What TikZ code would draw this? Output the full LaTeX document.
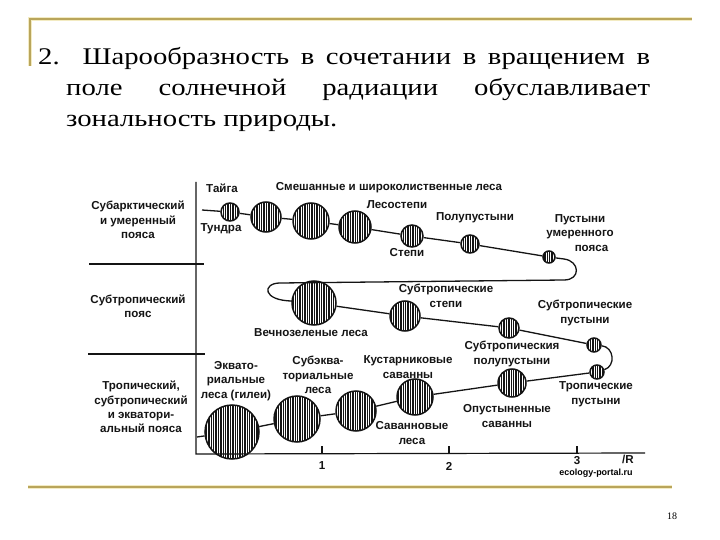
\documentclass[tikz,border=0pt]{standalone}
\usepackage{fontspec}
\setmainfont{Liberation Serif}
\newfontfamily\headfont[FakeStretch=1.2]{Liberation Serif}
\newfontfamily\labfont{Liberation Sans}
\usetikzlibrary{patterns.meta}
\definecolor{zgold}{HTML}{B9A55B}
\definecolor{zglow}{HTML}{F3EBC2}
\definecolor{zink}{HTML}{141414}

\begin{document}
\begin{tikzpicture}[x=1bp,y=-1bp,
    zone/.style={circle,draw=zink,line width=1.5bp,inner sep=0pt,
      pattern={Lines[angle=90,distance=2.4bp,line width=1.4bp]},pattern color=zink},
    lab/.style={font=\labfont\bfseries\fontsize{11.6}{14.5}\selectfont,align=center,inner sep=0pt,text=zink},
    link/.style={draw=zink,line width=1.3bp},
    rule/.style={draw=zink,line width=1.2bp},
    gold/.style={draw=zgold,line width=1.6bp}]
  \useasboundingbox (0,0) rectangle (720,540);
  \fill[white] (0,0) rectangle (720,540);
  % frame
  \coordinate (ftl) at (30,19);
  \coordinate (ftr) at (692,19);
  \coordinate (fl) at (30,66);
  \coordinate (fbl) at (28,487);
  \coordinate (fbr) at (672,487);
  \draw[zglow,line width=4.5bp] (fl) -- (ftl) -- (ftr);
  \draw[zglow,line width=4.5bp] (fbl) -- (fbr);
  \draw[gold] (fl) -- (ftl) -- (ftr);
  \draw[gold] (fbl) -- (fbr);
  % heading
  \node[anchor=north west,inner sep=0pt,align=left,
    font=\headfont\fontsize{24}{31}\selectfont] (head) at (38,47)
    {\makebox[612bp][s]{2. Шарообразность в сочетании в вращением в}\\
     \hspace*{28bp}\makebox[584bp][s]{поле солнечной радиации обуславливает}\\
     \hspace*{28bp}зональность природы.};
  \node[font=\fontsize{10}{12}\selectfont,inner sep=0pt] (pageno) at (672,516) {18};
  % axes
  \coordinate (ytop) at (196,182);
  \coordinate (orig) at (196,454);
  \coordinate (xend) at (645,453);
  \draw[rule] (ytop) -- (orig) -- (xend);
  \foreach \tx/\tl/\ty in {322/1/466,449/2/466,577/3/461}{
    \draw[rule] (\tx,454) -- (\tx,446);
    \node[lab] (tick\tl) at (\tx,\ty) {\tl};
  }
  \node[lab] (rlab) at (628,459) {/R};
  \node[font=\labfont\bfseries\fontsize{9}{10}\selectfont,inner sep=0pt] (mark) at (596,473) {ecology-portal.ru};
  % belts
  \coordinate (sep1a) at (89,264);
  \coordinate (sep1b) at (204,264);
  \coordinate (sep2a) at (88,354);
  \coordinate (sep2b) at (205,354);
  \draw[rule] (sep1a) -- (sep1b);
  \draw[rule] (sep2a) -- (sep2b);
  \node[lab] (belt1) at (138,220) {Субарктический\\и умеренный\\пояса};
  \node[lab] (belt2) at (138,306) {Субтропический\\пояс};
  \node[lab] (belt3) at (141,407) {Тропический,\\субтропический\\и экватори-\\альный пояса};
  % upper row
  \coordinate (start1) at (202,210);
  \node[zone,minimum size=18bp] (tundra) at (230,212) {};
  \node[zone,minimum size=30bp] (mix1) at (266,217) {};
  \node[zone,minimum size=36bp] (mix2) at (311,221) {};
  \node[zone,minimum size=32bp] (mix3) at (355,227) {};
  \node[zone,minimum size=22bp] (steppe) at (412,236) {};
  \node[zone,minimum size=18bp] (semides) at (470,244) {};
  \node[zone,minimum size=12bp] (tempdes) at (549,257) {};
  \draw[link] (start1) -- (tundra) -- (mix1) -- (mix2) -- (mix3) -- (steppe) -- (semides) -- (tempdes);
  \node[lab] (taigalab) at (222,188) {Тайга};
  \node[lab] (tundralab) at (221,229) {Тундра};
  \node[lab] (mixlab) at (389,188) {Смешанные и широколиственные леса};
  \node[lab] (fsteplab) at (397,205) {Лесостепи};
  \node[lab] (steplab) at (407,253) {Степи};
  \node[lab] (semilab) at (475,218) {Полупустыни};
  \node[lab] (tdeslab) at (580,233) {Пустыни\\умеренного\\\hspace*{2em}пояса};
  % turn to the middle row
  \coordinate (turn1) at (564,259);
  \coordinate (turn2) at (564,280);
  \coordinate (turn3) at (280,283);
  \draw[link] (tempdes) -- (turn1) .. controls (580,261) and (581,280) .. (turn2)
    -- (turn3) .. controls (262,283) and (262,301) .. (293,301);
  % middle row
  \node[zone,minimum size=44bp] (evergreen) at (314,303) {};
  \node[zone,minimum size=30bp] (substep) at (405,316) {};
  \node[zone,minimum size=20bp] (subsemi) at (509,328) {};
  \node[zone,minimum size=14bp] (subdes) at (594,345) {};
  \draw[link] (evergreen) -- (substep) -- (subsemi) -- (subdes);
  \node[lab] (everlab) at (311,333) {Вечнозеленые леса};
  \node[lab] (substeplab) at (446,296) {Субтропические\\степи};
  \node[lab] (subdeslab) at (585,313) {Субтропические\\пустыни};
  \node[lab] (subsemilab) at (512,354) {Субтропическия\\полупустыни};
  % lower row
  \node[zone,minimum size=14bp] (trdes) at (597,372) {};
  \draw[link] (subdes) .. controls (614,347) and (616,366) .. (trdes);
  \node[zone,minimum size=28bp] (desav) at (512,383) {};
  \node[zone,minimum size=36bp] (shrub) at (415,397) {};
  \node[zone,minimum size=40bp] (savfor) at (356,411) {};
  \node[zone,minimum size=46bp] (subeq) at (297,419) {};
  \node[zone,minimum size=54bp] (equat) at (232,432) {};
  \coordinate (start3) at (197,437);
  \draw[link] (trdes) -- (desav) -- (shrub) -- (savfor) -- (subeq) -- (equat) -- (start3);
  \node[lab] (equatlab) at (236,381) {Эквато-\\риальные\\леса (гилеи)};
  \node[lab] (subeqlab) at (318,375) {Субэква-\\ториальные\\леса};
  \node[lab] (shrublab) at (408,367) {Кустарниковые\\саванны};
  \node[lab] (savforlab) at (412,433) {Саванновые\\леса};
  \node[lab] (desavlab) at (507,416) {Опустыненные\\саванны};
  \node[lab] (trdeslab) at (596,394) {Тропические\\пустыни};
\end{tikzpicture}
\end{document}
